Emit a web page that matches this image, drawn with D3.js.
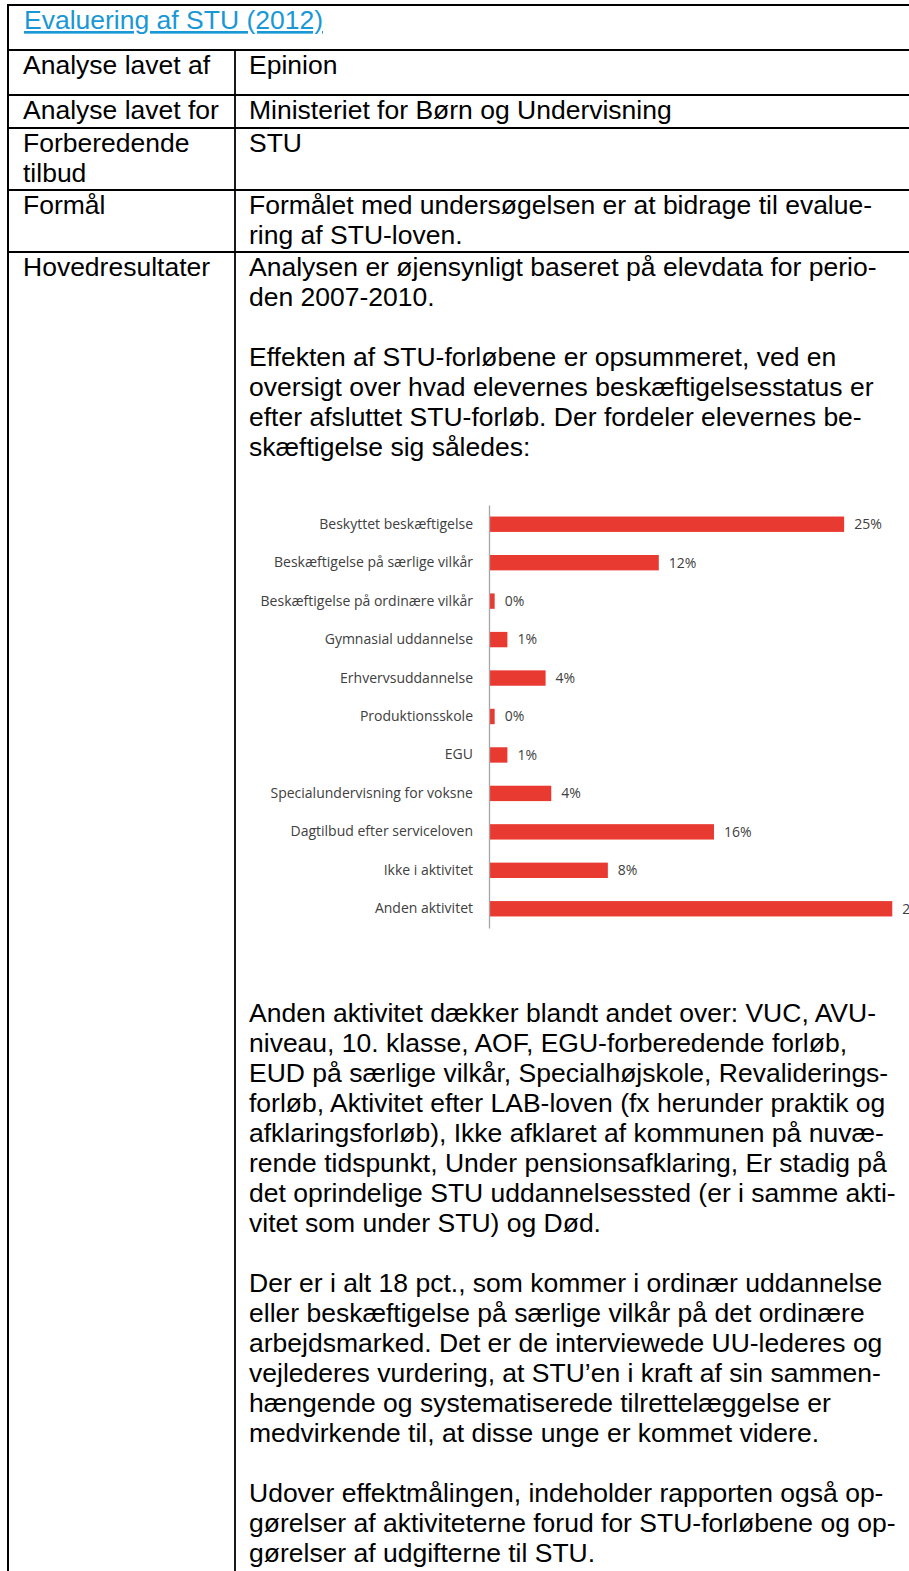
<!DOCTYPE html>
<html>
<head>
<meta charset="utf-8">
<script src="https://cdn.jsdelivr.net/npm/d3@7"></script>
<style>
    body { margin: 0; background: #fff; overflow: hidden; }
    svg { display: block; }
</style>
</head>
<body>
<div class="page"></div>
<script>
// Chart data (labels are the rounded values).
const categories = [
    "Beskyttet beskæftigelse",
    "Beskæftigelse på særlige vilkår",
    "Beskæftigelse på ordinære vilkår",
    "Gymnasial uddannelse",
    "Erhvervsuddannelse",
    "Produktionsskole",
    "EGU",
    "Specialundervisning for voksne",
    "Dagtilbud efter serviceloven",
    "Ikke i aktivitet",
    "Anden aktivitet",
];
const values = [25.1, 12.0, 0.4, 1.3, 4.0, 0.4, 1.3, 4.4, 15.9, 8.4, 28.5];

// Table texts.
const title = "Evaluering af STU (2012)";
const rowLabels = [
    ["Analyse lavet af"],
    ["Analyse lavet for"],
    ["Forberedende", "tilbud"],
    ["Formål"],
    ["Hovedresultater"],
];
const rowTexts = [
    ["Epinion"],
    ["Ministeriet for Børn og Undervisning"],
    ["STU"],
    ["Formålet med undersøgelsen er at bidrage til evalue-", "ring af STU-loven."],
];
const introLines = [
    "Analysen er øjensynligt baseret på elevdata for perio-",
    "den 2007-2010.",
    "",
    "Effekten af STU-forløbene er opsummeret, ved en",
    "oversigt over hvad elevernes beskæftigelsesstatus er",
    "efter afsluttet STU-forløb. Der fordeler elevernes be-",
    "skæftigelse sig således:",
];
const outroLines = [
    "Anden aktivitet dækker blandt andet over: VUC, AVU-",
    "niveau, 10. klasse, AOF, EGU-forberedende forløb,",
    "EUD på særlige vilkår, Specialhøjskole, Revaliderings-",
    "forløb, Aktivitet efter LAB-loven (fx herunder praktik og",
    "afklaringsforløb), Ikke afklaret af kommunen på nuvæ-",
    "rende tidspunkt, Under pensionsafklaring, Er stadig på",
    "det oprindelige STU uddannelsessted (er i samme akti-",
    "vitet som under STU) og Død.",
    "",
    "Der er i alt 18 pct., som kommer i ordinær uddannelse",
    "eller beskæftigelse på særlige vilkår på det ordinære",
    "arbejdsmarked. Det er de interviewede UU-lederes og",
    "vejlederes vurdering, at STU’en i kraft af sin sammen-",
    "hængende og systematiserede tilrettelæggelse er",
    "medvirkende til, at disse unge er kommet videre.",
    "",
    "Udover effektmålingen, indeholder rapporten også op-",
    "gørelser af aktiviteterne forud for STU-forløbene og op-",
    "gørelser af udgifterne til STU.",
];

const WIDTH = 909;
const HEIGHT = 1571;
const FONT = "'Liberation Sans', Arial, sans-serif";
const CHART_FONT = "'Open Sans', 'Noto Sans', sans-serif";
const FONT_SIZE = 26.5;
const LINE = 30;
const BASELINE = 24; // first baseline below the top of a row
const TABLE_LEFT = 8;
const DIVIDER_X = 235;
const LEFT_TEXT_X = 23;
const RIGHT_TEXT_X = 249;
const ROW_TOPS = [5, 50, 95, 128, 190, 252];

const CHART_TOP = 505;
const CHART_BOTTOM = 928;
const AXIS_X = 489;
const OUTRO_BASELINE = 1022;

const svg = d3
    .select(".page")
    .append("svg")
    .attr("width", WIDTH)
    .attr("height", HEIGHT)
    .attr("viewBox", "0 0 " + WIDTH + " " + HEIGHT);

svg.append("rect").attr("width", WIDTH).attr("height", HEIGHT).attr("fill", "#fff");

// Table grid.
const grid = svg.append("g").attr("stroke", "#000").attr("stroke-width", 2);
ROW_TOPS.forEach((y, i) =>
    grid.append("line")
        .attr("x1", TABLE_LEFT - 1).attr("x2", WIDTH + 5)
        .attr("y1", y).attr("y2", y)
        .attr("stroke-width", i === 0 ? 2 : 1.8)
);
grid.append("line")
    .attr("x1", TABLE_LEFT).attr("x2", TABLE_LEFT)
    .attr("y1", ROW_TOPS[0] - 1).attr("y2", HEIGHT + 5);
grid.append("line")
    .attr("x1", DIVIDER_X).attr("x2", DIVIDER_X)
    .attr("y1", ROW_TOPS[1]).attr("y2", HEIGHT + 5)
    .attr("stroke-width", 1.8);

const textLayer = svg
    .append("g")
    .attr("font-family", FONT)
    .attr("font-size", FONT_SIZE)
    .attr("fill", "#000");

// Title as link-styled text.
textLayer.append("text")
    .attr("x", LEFT_TEXT_X + 1)
    .attr("y", ROW_TOPS[0] + BASELINE)
    .attr("fill", "#1a98d5")
    .attr("text-decoration", "underline")
    .text(title);

function writeLines(lines, x, firstBaseline) {
    textLayer
        .append("g")
        .selectAll("text")
        .data(lines)
        .join("text")
        .attr("x", x)
        .attr("y", (_, i) => firstBaseline + i * LINE)
        .text((d) => d);
}

rowLabels.forEach((lines, i) => writeLines(lines, LEFT_TEXT_X, ROW_TOPS[i + 1] + BASELINE));
rowTexts.forEach((lines, i) => writeLines(lines, RIGHT_TEXT_X, ROW_TOPS[i + 1] + BASELINE));
writeLines(introLines, RIGHT_TEXT_X, ROW_TOPS[5] + BASELINE);
writeLines(outroLines, RIGHT_TEXT_X, OUTRO_BASELINE);

// Bar chart.
const y = d3
    .scaleBand()
    .domain(categories)
    .range([CHART_TOP, CHART_BOTTOM])
    .paddingInner(0.6)
    .paddingOuter(0.3);

const x = d3.scaleLinear().domain([0, 30]).range([AXIS_X, AXIS_X + 424.5]);

const chart = svg
    .append("g")
    .attr("font-family", CHART_FONT)
    .attr("font-size", 14);

chart.append("g")
    .selectAll("rect")
    .data(values)
    .join("rect")
    .attr("x", x(0))
    .attr("y", (_, i) => y(categories[i]))
    .attr("width", (d) => x(d) - x(0))
    .attr("height", y.bandwidth())
    .attr("fill", "#e93a31");

chart.append("g")
    .selectAll("text")
    .data(values)
    .join("text")
    .attr("x", (d) => x(d) + 10)
    .attr("y", (_, i) => y(categories[i]) + y.bandwidth() / 2)
    .attr("dy", "0.35em")
    .attr("fill", "#404040")
    .text((d) => Math.round(d) + "%");

const axis = chart
    .append("g")
    .attr("transform", "translate(" + AXIS_X + ",0)")
    .call(d3.axisLeft(y).tickSize(0).tickSizeOuter(0).tickPadding(16));
axis.select(".domain").attr("stroke", "#a6a6a6").attr("stroke-width", 1.3);
axis.selectAll(".tick text")
    .attr("font-family", CHART_FONT)
    .attr("font-size", 14)
    .attr("fill", "#404040");
</script>
</body>
</html>
